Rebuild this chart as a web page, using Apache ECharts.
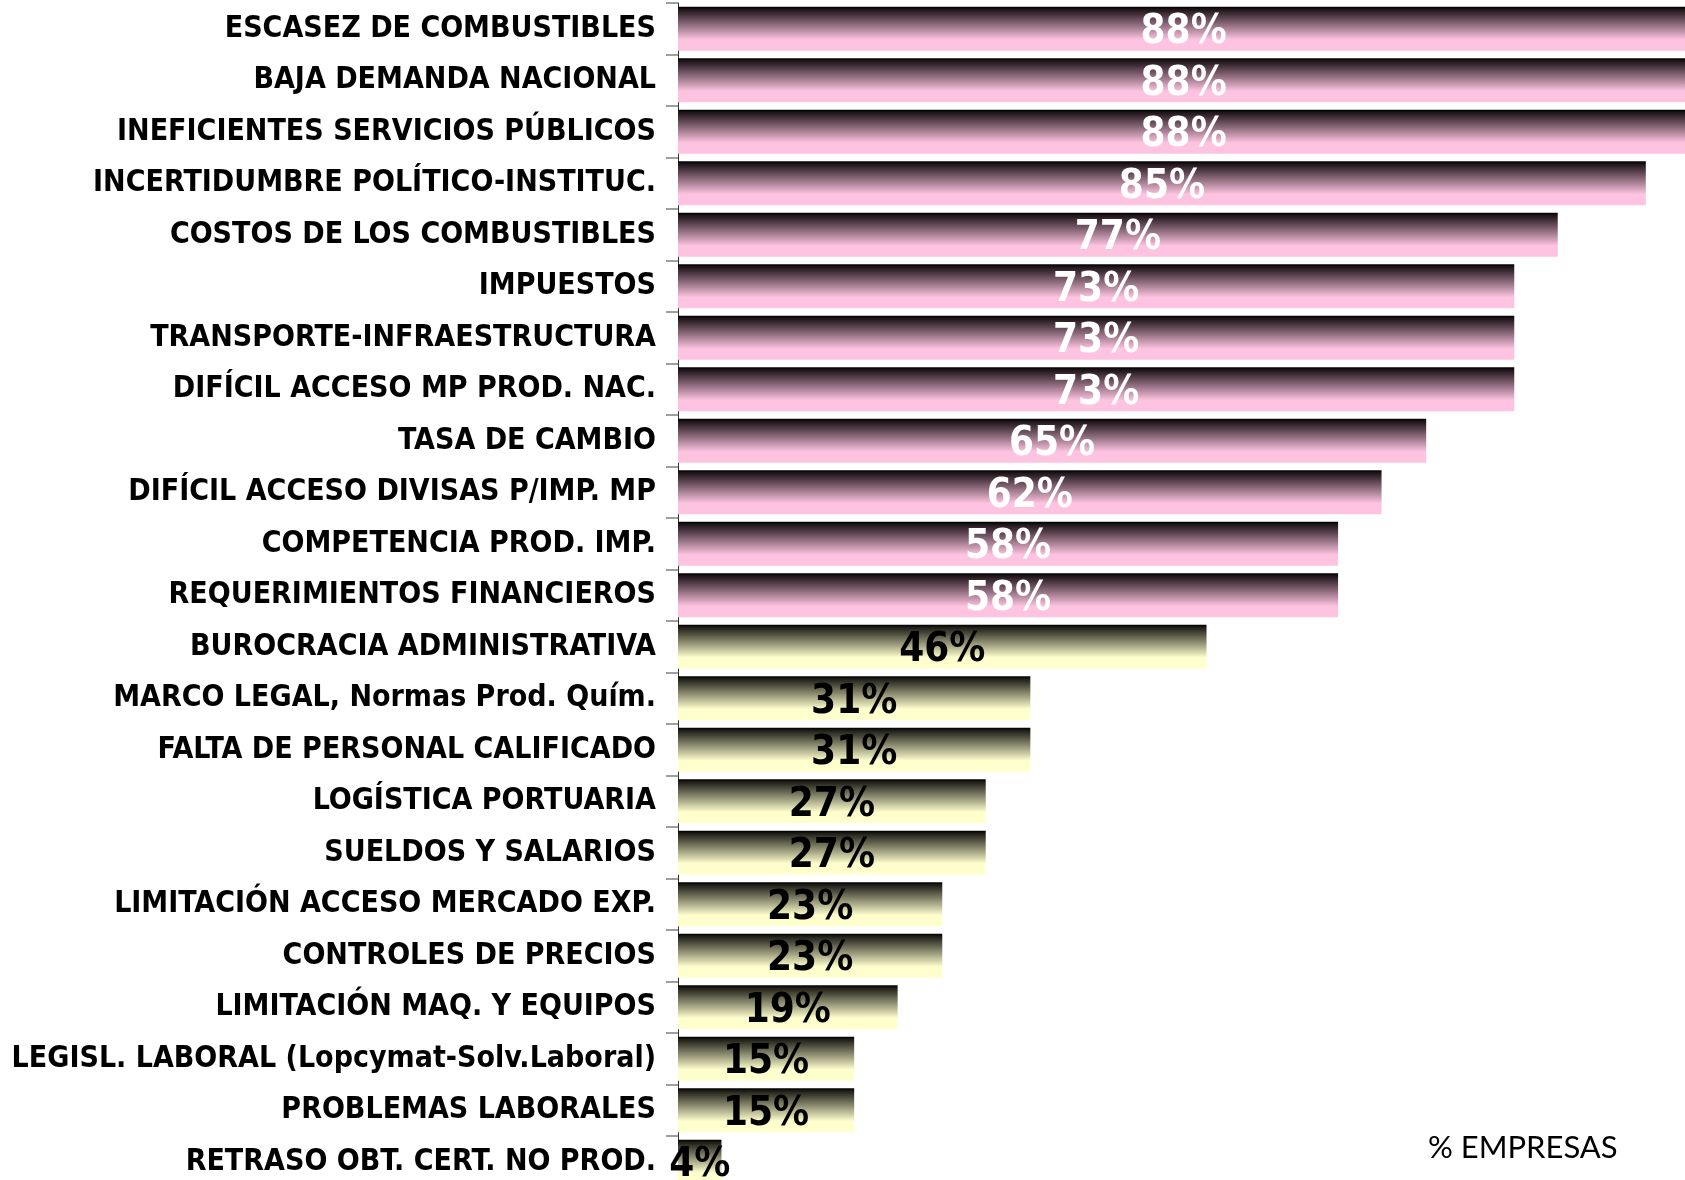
<!DOCTYPE html>
<html>
<head>
<meta charset="utf-8">
<script src="https://cdn.jsdelivr.net/npm/echarts@6/dist/echarts.min.js"></script>
<style>
html,body{margin:0;padding:0;background:#fff;}
#main{width:1685px;height:1180px;}
</style>
</head>
<body>
<div id="main"></div>
<script>
const categories = [
  "ESCASEZ DE COMBUSTIBLES",
  "BAJA DEMANDA NACIONAL",
  "INEFICIENTES SERVICIOS PÚBLICOS",
  "INCERTIDUMBRE POLÍTICO-INSTITUC.",
  "COSTOS DE LOS COMBUSTIBLES",
  "IMPUESTOS",
  "TRANSPORTE-INFRAESTRUCTURA",
  "DIFÍCIL ACCESO MP PROD. NAC.",
  "TASA DE CAMBIO",
  "DIFÍCIL ACCESO DIVISAS P/IMP. MP",
  "COMPETENCIA PROD. IMP.",
  "REQUERIMIENTOS FINANCIEROS",
  "BUROCRACIA ADMINISTRATIVA",
  "MARCO LEGAL, Normas Prod. Quím.",
  "FALTA DE PERSONAL CALIFICADO",
  "LOGÍSTICA PORTUARIA",
  "SUELDOS Y SALARIOS",
  "LIMITACIÓN ACCESO MERCADO EXP.",
  "CONTROLES DE PRECIOS",
  "LIMITACIÓN MAQ. Y EQUIPOS",
  "LEGISL. LABORAL (Lopcymat-Solv.Laboral)",
  "PROBLEMAS LABORALES",
  "RETRASO OBT. CERT. NO PROD."
];
const values = [88.4, 88.4, 88.4, 84.6, 76.9, 73.1, 73.1, 73.1, 65.4, 61.5, 57.7, 57.7,
                46.2, 30.8, 30.8, 26.9, 26.9, 23.1, 23.1, 19.2, 15.4, 15.4, 3.8];
const highCount = 12; // first 12 factors highlighted (pink group)
const axisTitle = "% EMPRESAS";

const labelFont = '"Liberation Sans Narrow","Arial Narrow","DejaVu Sans Condensed",sans-serif';

function grad(c, dark) {
  return new echarts.graphic.LinearGradient(0, 0, 0, 1, [
    {offset: 0, color: '#000000'},
    {offset: 0.06, color: dark},
    {offset: 0.75, color: c},
    {offset: 1, color: c}
  ]);
}
const pink = '#FDC3E0', yellow = '#FFFFCE';

const seriesData = values.map((v, i) => {
  const hi = i < highCount;
  return {
    value: v,
    itemStyle: {color: hi ? grad(pink, '#1e1419') : grad(yellow, '#1e1e17')},
    label: {color: hi ? '#ffffff' : '#000000'}
  };
});

const chart = echarts.init(document.getElementById('main'), null, {renderer: 'canvas'});
chart.setOption({
  animation: false,
  backgroundColor: '#ffffff',
  grid: {left: 678, top: 3, width: 1144, height: 1184.5, containLabel: false, outerBoundsMode: 'none'},
  xAxis: {
    type: 'value', min: 0, max: 100, show: false
  },
  yAxis: {
    type: 'category', data: categories, inverse: true,
    axisLine: {show: true, lineStyle: {color: '#333333', width: 1}},
    axisTick: {show: true, length: 12, lineStyle: {color: '#808080', width: 1.5}},
    axisLabel: {
      margin: 22, color: '#000', fontFamily: labelFont, fontWeight: 'bold', fontSize: 30,
      padding: [8, 0, 0, 0]
    }
  },
  series: [{
    type: 'bar',
    data: seriesData,
    barCategoryGap: '15%',
    clip: false,
    label: {
      show: true, position: 'inside', offset: [0, 4],
      fontFamily: labelFont, fontWeight: 'bold', fontSize: 40,
      formatter: p => Math.round(p.value) + '%'
    }
  }],
  graphic: [{
    type: 'text', left: 1428, top: 1132,
    style: {text: axisTitle, font: '31px Lato, "Open Sans", sans-serif', fill: '#000'}
  }]
});
</script>
</body>
</html>
